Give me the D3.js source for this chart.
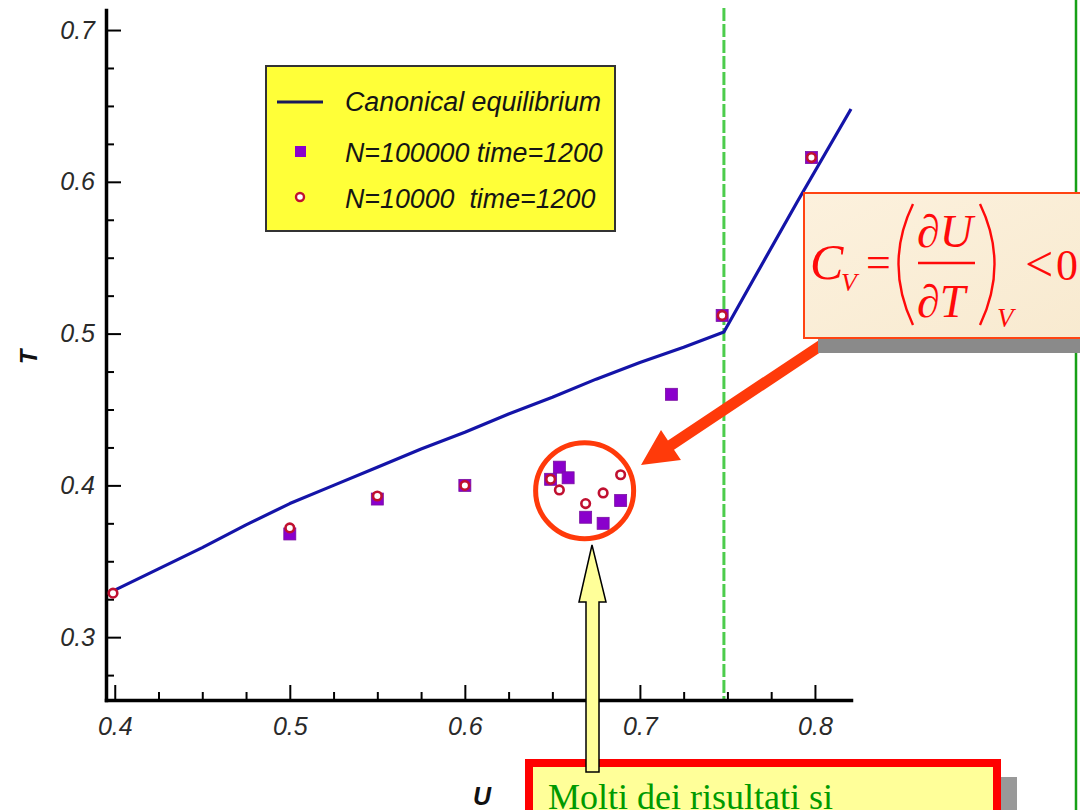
<!DOCTYPE html>
<html><head><meta charset="utf-8">
<script src="https://cdn.jsdelivr.net/npm/d3@7"></script>
<style>html,body{margin:0;padding:0;background:#fff;overflow:hidden}</style>
</head><body>
<svg id="c" width="1080" height="810"></svg>
<script>
// ---- data ----
const eqU = [0.400, 0.425, 0.450, 0.475, 0.500, 0.525, 0.550, 0.575, 0.600, 0.625, 0.650, 0.675, 0.700, 0.725, 0.748, 0.765, 0.790, 0.8206];
const eqT = [0.331, 0.345, 0.359, 0.374, 0.388, 0.400, 0.412, 0.424, 0.435, 0.447, 0.458, 0.470, 0.481, 0.491, 0.501, 0.536, 0.587, 0.648];

const bigU = [0.500, 0.550, 0.600, 0.649, 0.654, 0.659, 0.669, 0.679, 0.689, 0.718, 0.747, 0.798];
const bigT = [0.368, 0.391, 0.400, 0.404, 0.412, 0.405, 0.379, 0.375, 0.390, 0.460, 0.512, 0.616];

const smallU = [0.399, 0.500, 0.550, 0.600, 0.649, 0.654, 0.669, 0.679, 0.689, 0.747, 0.798];
const smallT = [0.329, 0.372, 0.393, 0.400, 0.404, 0.397, 0.388, 0.395, 0.407, 0.512, 0.616];

const xTicks = [0.4, 0.5, 0.6, 0.7, 0.8];
const xMinor = [0.425, 0.45, 0.475, 0.525, 0.55, 0.575, 0.625, 0.65, 0.675, 0.725, 0.75, 0.775];
const yTicks = [0.3, 0.4, 0.5, 0.6, 0.7];
const yMinor = [0.275, 0.325, 0.35, 0.375, 0.425, 0.45, 0.475, 0.525, 0.55, 0.575, 0.625, 0.65, 0.675];
const vLineU = 0.748;
const legendLabels = ["Canonical equilibrium", "N=100000 time=1200", "N=10000\u00a0\u00a0time=1200"];
const clusterCenter = [0.669, 0.3965];

// ---- drawing ----
const svg = d3.select("#c");
const x = d3.scaleLinear().domain([0.395, 0.8206]).range([106, 851]);
const y = d3.scaleLinear().domain([0.2586, 0.7132]).range([700, 10]);
const sans = "'Liberation Sans', Arial, Helvetica, sans-serif";
const serif = "'Liberation Serif', 'Times New Roman', serif";

// slide right border line
svg.append("line").attr("x1", 1076).attr("x2", 1076).attr("y1", 0).attr("y2", 810)
  .attr("stroke", "#16a016").attr("stroke-width", 2.5);

// green dashed vertical line
svg.append("line").attr("x1", x(vLineU)).attr("x2", x(vLineU)).attr("y1", 8).attr("y2", 700)
  .attr("stroke", "#4ccc4c").attr("stroke-width", 3).attr("stroke-dasharray", "13,3");

// axes
const gx = svg.append("g").attr("transform", "translate(0,700)")
  .call(d3.axisBottom(x).tickValues(xTicks).tickSizeInner(-15).tickSizeOuter(0).tickPadding(17).tickFormat(d3.format(".1f")));
const gxm = svg.append("g").attr("transform", "translate(0,700)")
  .call(d3.axisBottom(x).tickValues(xMinor).tickSizeInner(-8).tickSizeOuter(0).tickFormat(""));
const gy = svg.append("g").attr("transform", "translate(106,0)")
  .call(d3.axisLeft(y).tickValues(yTicks).tickSizeInner(-15).tickSizeOuter(0).tickPadding(11).tickFormat(d3.format(".1f")));
const gym = svg.append("g").attr("transform", "translate(106,0)")
  .call(d3.axisLeft(y).tickValues(yMinor).tickSizeInner(-8).tickSizeOuter(0).tickFormat(""));
gxm.select(".domain").remove(); gym.select(".domain").remove();
[gx, gy, gxm, gym].forEach(g => {
  g.selectAll(".domain").attr("stroke", "#000").attr("stroke-width", 3.5).attr("stroke-linecap", "square");
  g.selectAll(".tick line").attr("stroke", "#000").attr("stroke-width", 2);
  g.selectAll(".tick text").attr("font-family", sans).attr("font-style", "italic")
    .attr("font-size", 25).attr("fill", "#2a2a2a");
});

// axis titles
svg.append("text").attr("transform", "translate(37,357) rotate(-90)").attr("text-anchor", "middle")
  .attr("font-family", sans).attr("font-weight", "bold").attr("font-style", "italic").attr("font-size", 24)
  .attr("fill", "#111").text("T");
svg.append("text").attr("x", 482).attr("y", 805).attr("text-anchor", "middle")
  .attr("font-family", sans).attr("font-weight", "bold").attr("font-style", "italic").attr("font-size", 25)
  .attr("fill", "#111").text("U");

// canonical line
const eq = eqU.map((u, i) => [u, eqT[i]]);
svg.append("path").datum(eq)
  .attr("d", d3.line().x(d => x(d[0])).y(d => y(d[1])))
  .attr("fill", "none").attr("stroke", "#1414a8").attr("stroke-width", 3.2).attr("stroke-linejoin", "round");

// markers
const big = bigU.map((u, i) => [u, bigT[i]]);
svg.append("g").selectAll("rect").data(big).join("rect")
  .attr("x", d => x(d[0]) - 6).attr("y", d => y(d[1]) - 6).attr("width", 12).attr("height", 12)
  .attr("fill", "#8a00cc").attr("stroke", "#7a10a0").attr("stroke-width", 0.8);
const small = smallU.map((u, i) => [u, smallT[i]]);
svg.append("g").selectAll("circle").data(small).join("circle")
  .attr("cx", d => x(d[0])).attr("cy", d => y(d[1])).attr("r", 4.3)
  .attr("fill", "#fff").attr("stroke", "#c01030").attr("stroke-width", 2.6);

// legend
const lg = svg.append("g");
lg.append("rect").attr("x", 266).attr("y", 66).attr("width", 349).attr("height", 165)
  .attr("fill", "#ffff38").attr("stroke", "#333").attr("stroke-width", 2);
lg.append("line").attr("x1", 277).attr("x2", 323).attr("y1", 102).attr("y2", 102)
  .attr("stroke", "#1a1a5a").attr("stroke-width", 3.2);
lg.append("rect").attr("x", 295).attr("y", 146).attr("width", 11).attr("height", 11).attr("fill", "#8a00cc");
lg.append("circle").attr("cx", 300).attr("cy", 197).attr("r", 4).attr("fill", "#fff")
  .attr("stroke", "#c01030").attr("stroke-width", 2.4);
const lgY = [111, 162, 208];
legendLabels.forEach((t, i) => {
  lg.append("text").attr("x", 345).attr("y", lgY[i]).attr("font-family", sans).attr("font-style", "italic")
    .attr("font-size", 26.8).attr("fill", "#151515").text(t);
});

// red circle around cluster
svg.append("ellipse").attr("cx", x(clusterCenter[0]) - 1).attr("cy", y(clusterCenter[1]))
  .attr("rx", 49).attr("ry", 48).attr("fill", "none").attr("stroke", "#ff3a0a").attr("stroke-width", 5);

// red arrow
(function () {
  const S = [832, 338], P = [641, 465];
  const dx = P[0] - S[0], dy = P[1] - S[1], L = Math.hypot(dx, dy);
  const u = [dx / L, dy / L], n = [-u[1], u[0]];
  const hl = 36, hh = 18, sh = 5.5;
  const B = [P[0] - u[0] * hl, P[1] - u[1] * hl];
  const pt = (p, k) => [p[0] + n[0] * k, p[1] + n[1] * k];
  const poly = [pt(S, sh), pt(B, sh), pt(B, hh), P, pt(B, -hh), pt(B, -sh), pt(S, -sh)];
  svg.append("polygon").attr("points", poly.map(p => p.join(",")).join(" ")).attr("fill", "#ff3a0a");
})();

// formula box
const fb = svg.append("g");
fb.append("rect").attr("x", 818).attr("y", 338).attr("width", 270).attr("height", 15).attr("fill", "#8a8a8a");
const grad = svg.append("defs").append("linearGradient").attr("id", "peach").attr("x1", 0).attr("y1", 0).attr("x2", 1).attr("y2", 1);
grad.append("stop").attr("offset", 0).attr("stop-color", "#fcf1dd");
grad.append("stop").attr("offset", 1).attr("stop-color", "#f8ead0");
fb.append("rect").attr("x", 804).attr("y", 193).attr("width", 290).attr("height", 145)
  .attr("fill", "url(#peach)").attr("stroke", "#ff4412").attr("stroke-width", 2);
const red = "#ff0a0a";
const ft = (tx, ty, size, s, italic) => fb.append("text").attr("x", tx).attr("y", ty)
  .attr("font-family", serif).attr("font-size", size).attr("font-style", italic ? "italic" : "normal")
  .attr("fill", red).text(s);
ft(810, 279, 50, "C", true);
ft(841, 291, 26, "V", true);
ft(866, 277, 44, "=", false);
ft(917, 247, 46, "\u2202U", true);
ft(917, 317, 46, "\u2202T", true);
ft(997, 327, 27, "V", true);
ft(1025, 281, 50, "<", false);
ft(1056, 280, 44, "0", false);
fb.append("line").attr("x1", 918).attr("x2", 975).attr("y1", 263).attr("y2", 263).attr("stroke", red).attr("stroke-width", 2.5);
fb.append("path").attr("d", "M913,204 Q884,264 913,325").attr("fill", "none").attr("stroke", red).attr("stroke-width", 2.4);
fb.append("path").attr("d", "M980,204 Q1009,264 980,325").attr("fill", "none").attr("stroke", red).attr("stroke-width", 2.4);

// bottom text box
svg.append("rect").attr("x", 1001).attr("y", 777).attr("width", 16).attr("height", 40).attr("fill", "#999");
svg.append("rect").attr("x", 529).attr("y", 763).attr("width", 468).attr("height", 100)
  .attr("fill", "#ffff99").attr("stroke", "#ff0000").attr("stroke-width", 8);
svg.append("text").attr("x", 548).attr("y", 809).attr("font-family", serif).attr("font-size", 36)
  .attr("fill", "#009a00").text("Molti dei risultati si");

// yellow up arrow
svg.append("polygon")
  .attr("points", [[592, 545], [606, 602], [599, 602], [599, 772], [586, 772], [586, 602], [579, 602]].map(p => p.join(",")).join(" "))
  .attr("fill", "#ffff99").attr("stroke", "#000").attr("stroke-width", 1.5).attr("stroke-linejoin", "miter");
</script>
</body></html>
